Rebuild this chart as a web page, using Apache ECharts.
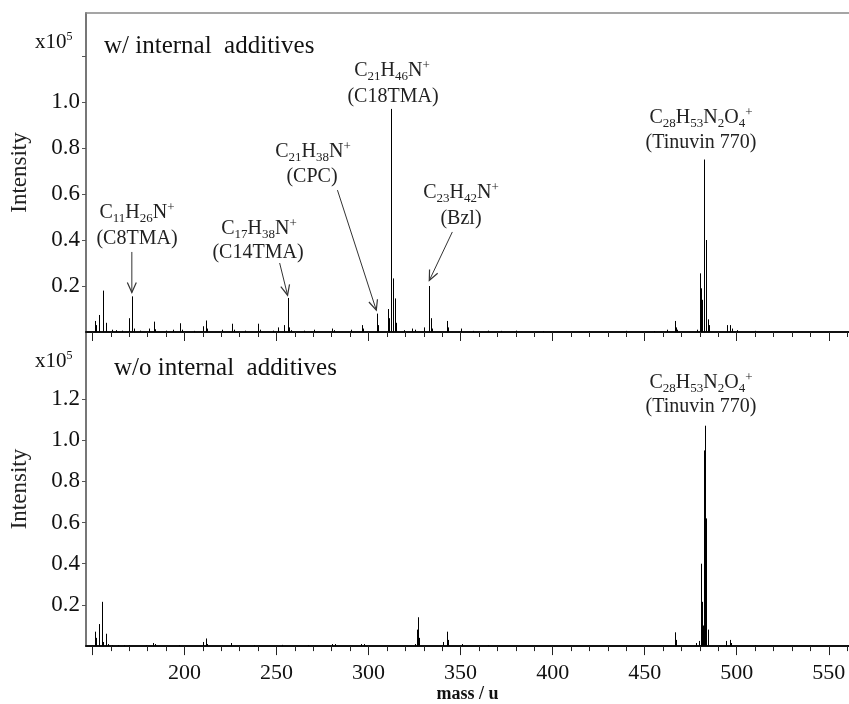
<!DOCTYPE html>
<html>
<head>
<meta charset="utf-8">
<script src="https://cdn.jsdelivr.net/npm/echarts@6/dist/echarts.min.js"></script>
<style>
html,body{margin:0;padding:0;background:#fff}
#chart{width:849px;height:704px}
</style>
</head>
<body>
<div id="chart"></div>
<script>
// 质谱峰 (mass / u, intensity x10^5)
var topMass = [151.5,152.0,153.4,155.5,156.0,157.3,160.4,163.0,166.0,169.6,
    171.4,172.4,176.0,180.6,183.5,184.2,190.0,193.5,197.8,198.6,
    205.0,210.0,211.5,212.3,220.6,226.0,226.8,233.0,240.0,240.8,
    248.0,250.8,254.2,256.0,256.9,258.0,265.0,270.5,280.4,281.0,
    290.3,296.3,297.0,304.4,305.3,310.4,311.0,312.0,312.4,313.5,
    314.2,315.0,319.0,323.6,325.4,329.9,332.8,333.7,334.5,342.5,
    343.4,350.3,357.0,365.0,372.0,380.0,395.0,420.0,440.0,455.0,
    462.0,466.3,466.9,467.6,478.5,480.1,480.7,481.4,482.1,482.4,
    483.5,484.5,485.0,494.8,496.6,497.4,500.0,510.0];
var topInt = [0.048,0.03,0.074,0.18,0.02,0.04,0.01,0.008,0.006,0.06,
    0.155,0.015,0.006,0.015,0.045,0.012,0.006,0.01,0.038,0.01,
    0.005,0.025,0.05,0.015,0.01,0.036,0.01,0.006,0.036,0.01,
    0.006,0.02,0.03,0.148,0.02,0.008,0.006,0.01,0.015,0.008,
    0.01,0.03,0.015,0.08,0.03,0.1,0.06,0.49,0.97,0.233,
    0.146,0.04,0.008,0.015,0.01,0.02,0.2,0.06,0.015,0.048,
    0.02,0.015,0.005,0.006,0.005,0.006,0.004,0.004,0.005,0.004,
    0.01,0.048,0.02,0.01,0.01,0.255,0.19,0.14,0.62,0.75,
    0.40,0.055,0.03,0.03,0.03,0.015,0.008,0.005];

var botMass = [151.5,152.0,153.4,155.3,155.8,157.3,158.2,160.4,164.0,167.0,
    170.0,179.0,183.0,184.0,197.0,210.0,211.5,212.3,225.5,238.0,
    253.0,267.0,280.4,281.9,295.9,297.7,325.5,326.1,326.9,327.4,
    340.6,342.4,343.1,350.9,365.0,466.3,466.9,478.1,479.3,480.4,
    481.4,481.9,482.3,482.6,483.5,484.5,494.4,496.2,497.1,510.0];
var botInt = [0.07,0.04,0.107,0.215,0.02,0.06,0.01,0.005,0.005,0.005,
    0.004,0.004,0.015,0.01,0.005,0.02,0.037,0.01,0.015,0.005,
    0.006,0.005,0.01,0.01,0.01,0.01,0.01,0.08,0.14,0.04,
    0.02,0.07,0.03,0.01,0.004,0.067,0.03,0.015,0.025,0.40,
    0.215,0.10,0.95,1.07,0.62,0.08,0.025,0.03,0.015,0.004];

// 刻度
var majorTicks = [150,200,250,300,350,400,450,500,550];
var massLabels = [200,250,300,350,400,450,500,550];
var minorTicks = [150,160,170,180,190,200,210,220,230,240,250,260,270,280,290,300,
    310,320,330,340,350,360,370,380,390,400,410,420,430,440,450,460,470,480,490,500,
    510,520,530,540,550,560];
var topTicks = [0.2,0.4,0.6,0.8,1.0,1.2];
var topLabels = [0.2,0.4,0.6,0.8,1.0];
var botTicks = [0.2,0.4,0.6,0.8,1.0,1.2];
var botLabels = [0.2,0.4,0.6,0.8,1.0,1.2];

var SERIF = 'Liberation Serif';

function pairs(xs, ys){
    var out = [];
    for (var i = 0; i < xs.length; i++) out.push([xs[i], ys[i]]);
    return out;
}

// 竖线画峰
function renderStick(params, api){
    var p0 = api.coord([api.value(0), 0]);
    var p1 = api.coord([api.value(0), api.value(1)]);
    var x = Math.round(p0[0]) + 0.5;
    return {type:'line', shape:{x1:x, y1:p0[1], x2:x, y2:p1[1]},
        style:{stroke:'#000', lineWidth:1}};
}

// 箭头
function renderArrow(params, api){
    var a = api.coord([api.value(0), api.value(1)]);
    var b = api.coord([api.value(2), api.value(3)]);
    var ang = Math.atan2(b[1]-a[1], b[0]-a[0]);
    var L = 11, h = 0.42;
    var p1 = [b[0] - L*Math.cos(ang-h), b[1] - L*Math.sin(ang-h)];
    var p2 = [b[0] - L*Math.cos(ang+h), b[1] - L*Math.sin(ang+h)];
    return {type:'group', children:[
        {type:'line', shape:{x1:a[0], y1:a[1], x2:b[0], y2:b[1]}, style:{stroke:'#333', lineWidth:1}},
        {type:'polyline', shape:{points:[p1, b, p2]}, style:{stroke:'#333', lineWidth:1.2, fill:'none'}}
    ]};
}

var rich = {
    m:{fontFamily:SERIF, fontSize:20, lineHeight:24, fill:'#222'},
    s:{fontFamily:SERIF, fontSize:13, lineHeight:13, verticalAlign:'bottom', fill:'#222'},
    p:{fontFamily:SERIF, fontSize:13, lineHeight:13, verticalAlign:'top', fill:'#222'}
};
function label(x, y, txt){
    return {type:'text', z:10, style:{x:x, y:y, text:txt, rich:rich, align:'center', verticalAlign:'middle',
        fontFamily:SERIF, fontSize:20, fill:'#222'}};
}
function plain(x, y, txt, size){
    return {type:'text', z:10, style:{x:x, y:y, text:txt, align:'left', verticalAlign:'middle',
        fontFamily:SERIF, fontSize:size, fill:'#111'}};
}
var expRich = {
    a:{fontFamily:SERIF, fontSize:21, lineHeight:22, fill:'#111'},
    b:{fontFamily:SERIF, fontSize:12, lineHeight:12, verticalAlign:'top', fill:'#111'}
};
function expo(x, y){
    return {type:'text', z:10, style:{x:x, y:y, text:'{a|x10}{b|5}', rich:expRich,
        align:'left', verticalAlign:'middle', fontFamily:SERIF, fontSize:21}};
}

var tinuvin = '{m|C}{s|28}{m|H}{s|53}{m|N}{s|2}{m|O}{s|4}{p|+}';

function xMajor(grid, showLabel){
    return {type:'value', gridIndex:grid, min:146.5, max:561, position:'bottom',
        axisLine:{show:true, lineStyle:{color:'#111', width:2}},
        axisTick:{show:true, length:9, customValues:majorTicks, lineStyle:{color:'#222', width:1}},
        axisLabel:{show:showLabel, customValues:massLabels, fontFamily:SERIF, fontSize:22, color:'#111', margin:16},
        splitLine:{show:false}};
}
function xMinor(grid){
    return {type:'value', gridIndex:grid, min:146.5, max:561, position:'bottom',
        axisLine:{show:false},
        axisTick:{show:true, length:5, customValues:minorTicks, lineStyle:{color:'#222', width:1}},
        axisLabel:{show:false}, splitLine:{show:false}};
}
function yAx(grid, max, ticks, labels){
    return {type:'value', gridIndex:grid, min:0, max:max,
        name:'Intensity', nameLocation:'middle', nameGap:55,
        nameTextStyle:{fontFamily:SERIF, fontSize:23, color:'#222'},
        axisLine:{show:true, lineStyle:{color:'#777', width:2}},
        axisTick:{show:true, length:4, customValues:ticks, lineStyle:{color:'#555'}},
        axisLabel:{customValues:labels, fontFamily:SERIF, fontSize:23, color:'#111', margin:6,
            formatter:function(v){ return v.toFixed(1); }},
        splitLine:{show:false}};
}

var option = {
    animation:false,
    backgroundColor:'#fff',
    grid:[
        {left:83, right:0, top:13, height:319},
        {left:83, right:0, top:332, height:318}
    ],
    xAxis:[
        xMajor(0, false),
        xMinor(0),
        {type:'value', gridIndex:0, min:146.5, max:561, position:'top',
            axisLine:{show:true, lineStyle:{color:'#888', width:1.5}},
            axisTick:{show:false}, axisLabel:{show:false}, splitLine:{show:false}},
        (function(){
            var a = xMajor(1, true);
            a.name = 'mass / u';
            a.nameLocation = 'middle';
            a.nameGap = 36;
            a.nameTextStyle = {fontFamily:SERIF, fontSize:18, fontWeight:'bold', color:'#111'};
            return a;
        })(),
        xMinor(1)
    ],
    yAxis:[
        yAx(0, 1.387, topTicks, topLabels),
        yAx(1, 1.525, botTicks, botLabels)
    ],
    series:[
        {type:'custom', xAxisIndex:0, yAxisIndex:0, renderItem:renderStick,
            encode:{x:0, y:1}, data:pairs(topMass, topInt), silent:true},
        {type:'custom', xAxisIndex:0, yAxisIndex:0, renderItem:renderArrow,
            encode:{x:[0,2], y:[1,3]}, silent:true,
            data:[[171.4,0.348,171.4,0.172],[251.7,0.30,256.0,0.160],
                  [283.1,0.617,304.2,0.095],[345.5,0.435,333.0,0.224]]},
        {type:'custom', xAxisIndex:3, yAxisIndex:1, renderItem:renderStick,
            encode:{x:0, y:1}, data:pairs(botMass, botInt), silent:true}
    ],
    graphic:[
        expo(35, 42),
        plain(104, 46, 'w/ internal  additives', 25),
        expo(35, 361),
        plain(114, 368, 'w/o internal  additives', 25),
        label(137, 213, '{m|C}{s|11}{m|H}{s|26}{m|N}{p|+}'),
        label(137, 239, '{m|(C8TMA)}'),
        label(259, 229, '{m|C}{s|17}{m|H}{s|38}{m|N}{p|+}'),
        label(258, 253, '{m|(C14TMA)}'),
        label(313, 152, '{m|C}{s|21}{m|H}{s|38}{m|N}{p|+}'),
        label(312, 177, '{m|(CPC)}'),
        label(392, 71, '{m|C}{s|21}{m|H}{s|46}{m|N}{p|+}'),
        label(393, 97, '{m|(C18TMA)}'),
        label(461, 193, '{m|C}{s|23}{m|H}{s|42}{m|N}{p|+}'),
        label(461, 219, '{m|(Bzl)}'),
        label(701, 118, tinuvin),
        label(701, 143, '{m|(Tinuvin 770)}'),
        label(701, 383, tinuvin),
        label(701, 407, '{m|(Tinuvin 770)}')
    ]
};

var myChart = echarts.init(document.getElementById('chart'));
myChart.setOption(option);
</script>
</body>
</html>
